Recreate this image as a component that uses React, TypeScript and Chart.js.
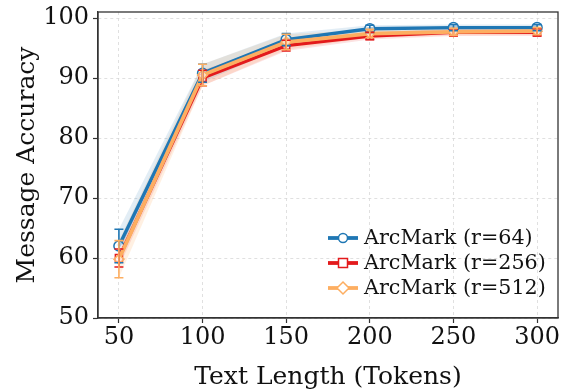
import React, { useEffect, useRef } from "react";
import { Chart, registerables } from "chart.js";

Chart.register(...registerables);

const lengths = [50, 100, 150, 200, 250, 300];
const xTicks = [50, 100, 150, 200, 250, 300];
const yTicks = [50, 60, 70, 80, 90, 100];

const seriesNames = ["ArcMark (r=64)", "ArcMark (r=256)", "ArcMark (r=512)"];
const acc64 = [62.0, 90.8, 96.4, 98.2, 98.4, 98.4];
const std64 = [2.8, 1.5, 1.0, 0.6, 0.5, 0.5];
const acc256 = [60.0, 90.0, 95.4, 97.0, 97.6, 97.6];
const std256 = [1.5, 1.3, 0.9, 0.6, 0.6, 0.6];
const acc512 = [59.8, 90.5, 96.0, 97.4, 97.7, 97.8];
const std512 = [3.1, 1.8, 1.3, 0.7, 0.6, 0.6];

const colors = ["#1f77b4", "#e31a1c", "#fdae61"];
const bandColors = ["rgba(31,119,180,0.13)", "rgba(227,26,28,0.12)", "rgba(253,174,97,0.18)"];
const pointStyles = ["circle", "rect", "rectRot"];

const FONT = "'DejaVu Serif', serif";

export default function App() {
  const ref = useRef<HTMLCanvasElement | null>(null);
  useEffect(() => {
    document.body.style.margin = "0";
    const canvas = ref.current!;
    const accs = [acc64, acc256, acc512];
    const stds = [std64, std256, std512];
    const datasets: any[] = [];
    accs.forEach((a, s) => {
      datasets.push({
        label: "lo" + s,
        data: lengths.map((x, i) => ({ x, y: a[i] - stds[s][i] })),
        borderWidth: 0,
        pointRadius: 0,
        fill: false,
        order: 10,
      });
      datasets.push({
        label: "hi" + s,
        data: lengths.map((x, i) => ({ x, y: a[i] + stds[s][i] })),
        borderWidth: 0,
        pointRadius: 0,
        backgroundColor: bandColors[s],
        fill: "-1",
        order: 10,
      });
    });
    accs.forEach((a, s) => {
      datasets.push({
        label: seriesNames[s],
        data: lengths.map((x, i) => ({ x, y: a[i] })),
        borderColor: colors[s],
        backgroundColor: "#ffffff",
        borderWidth: s === 2 ? 3.8 : 3.4,
        pointStyle: pointStyles[s],
        pointRadius: 5,
        pointBorderWidth: 1.5,
        pointBorderColor: colors[s],
        pointBackgroundColor: "rgba(255,255,255,0.6)",
        fill: false,
        tension: 0,
        order: 3 - s,
      });
    });

    const extras = {
      id: "extras",
      afterDatasetsDraw(chart: any) {
        const { ctx, chartArea, scales } = chart;
        const xs = scales.x;
        const ys = scales.y;
        ctx.save();
        // error bars
        accs.forEach((a, s) => {
          ctx.strokeStyle = colors[s];
          ctx.lineWidth = 1.6;
          lengths.forEach((x, i) => {
            const px = xs.getPixelForValue(x);
            const top = ys.getPixelForValue(a[i] + stds[s][i]);
            const bot = ys.getPixelForValue(a[i] - stds[s][i]);
            ctx.beginPath();
            ctx.moveTo(px, top);
            ctx.lineTo(px, bot);
            ctx.moveTo(px - 4.5, top);
            ctx.lineTo(px + 4.5, top);
            ctx.moveTo(px - 4.5, bot);
            ctx.lineTo(px + 4.5, bot);
            ctx.stroke();
          });
        });
        // frame
        ctx.strokeStyle = "#333333";
        ctx.lineWidth = 1.3;
        ctx.strokeRect(chartArea.left, chartArea.top, chartArea.right - chartArea.left, chartArea.bottom - chartArea.top);
        // legend
        const lx = 328;
        const ly0 = 238;
        const dy = 25;
        ctx.font = "20.7px " + FONT;
        ctx.textBaseline = "middle";
        ctx.textAlign = "left";
        seriesNames.forEach((name, s) => {
          const y = ly0 + dy * s;
          ctx.strokeStyle = colors[s];
          ctx.lineWidth = 3.8;
          ctx.beginPath();
          ctx.moveTo(lx, y);
          ctx.lineTo(lx + 30, y);
          ctx.stroke();
          ctx.fillStyle = "#ffffff";
          ctx.strokeStyle = colors[s];
          ctx.lineWidth = 1.5;
          const cx = lx + 15;
          ctx.beginPath();
          if (s === 0) {
            ctx.arc(cx, y, 4.5, 0, Math.PI * 2);
          } else if (s === 1) {
            ctx.rect(cx - 4.5, y - 4.5, 9, 9);
          } else {
            ctx.moveTo(cx, y - 6);
            ctx.lineTo(cx + 6, y);
            ctx.lineTo(cx, y + 6);
            ctx.lineTo(cx - 6, y);
            ctx.closePath();
          }
          ctx.fill();
          ctx.stroke();
          ctx.fillStyle = "#111111";
          ctx.fillText(name, lx + 36, y + 1);
        });
        ctx.restore();
      },
    };

    const chart = new Chart(canvas, {
      type: "line",
      data: { datasets },
      plugins: [extras],
      options: {
        animation: false,
        responsive: false,
        maintainAspectRatio: false,
        layout: { padding: { top: 12, right: 10, left: 0, bottom: 0 } },
        plugins: { legend: { display: false }, tooltip: { enabled: false } },
        scales: {
          x: {
            type: "linear",
            min: 37.5,
            max: 312.5,
            afterBuildTicks: (sc: any) => {
              sc.ticks = xTicks.map((v) => ({ value: v }));
            },
            afterFit: (sc: any) => {
              sc.height = 74;
              sc.paddingLeft = 0;
              sc.paddingRight = 0;
            },
            ticks: { font: { family: FONT, size: 24 }, color: "#111", padding: 0, maxRotation: 0 },
            grid: { color: "#d8d8d8", lineWidth: 0.8, tickColor: "#333", tickLength: 5, tickWidth: 1.2, tickBorderDash: [] },
            border: { display: true, color: "#333", width: 1.3, dash: [3, 3] },
            title: { display: true, text: "Text Length (Tokens)", font: { family: FONT, size: 25 }, color: "#111", padding: { top: 4, bottom: 0 } },
          },
          y: {
            type: "linear",
            min: 50,
            max: 101,
            afterBuildTicks: (sc: any) => {
              sc.ticks = yTicks.map((v) => ({ value: v }));
            },
            afterFit: (sc: any) => {
              sc.width = 98;
              sc.paddingTop = 0;
              sc.paddingBottom = 0;
            },
            ticks: { font: { family: FONT, size: 24 }, color: "#111", padding: 4 },
            grid: { color: "#d8d8d8", lineWidth: 0.8, tickColor: "#333", tickLength: 5, tickWidth: 1.2, tickBorderDash: [] },
            border: { display: true, color: "#333", width: 1.3, dash: [3, 3] },
            title: { display: true, text: "Message Accuracy", font: { family: FONT, size: 25 }, color: "#111", padding: { top: 12, bottom: 0 } },
          },
        },
      },
    } as any);
    return () => chart.destroy();
  }, []);
  return <canvas ref={ref} width={568} height={392} style={{ display: "block" }} />;
}
